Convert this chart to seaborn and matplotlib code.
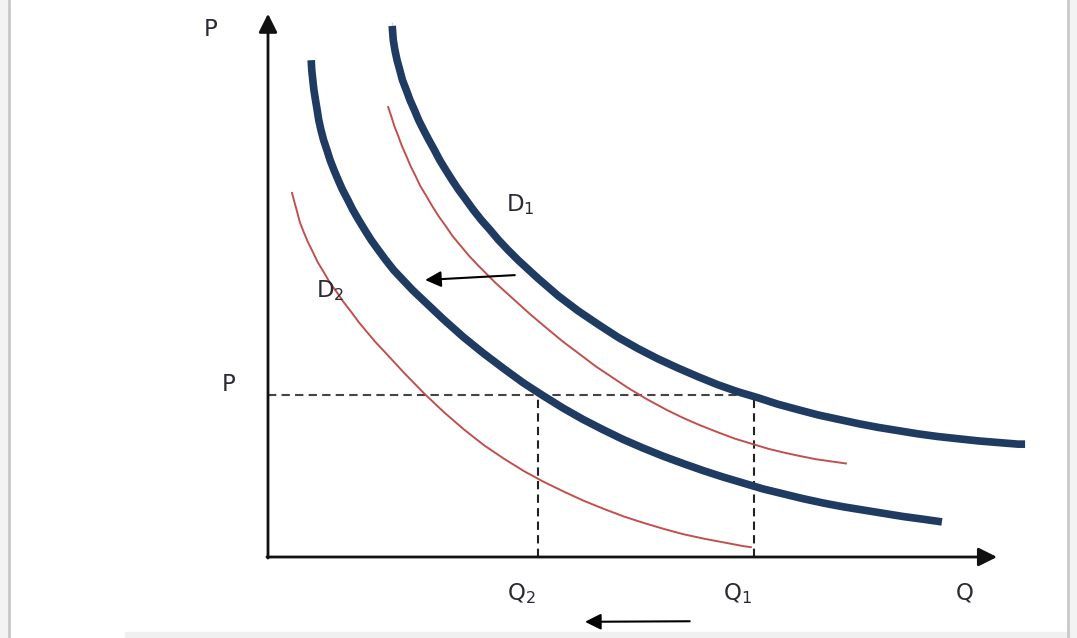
import seaborn as sns
import matplotlib.pyplot as plt
import pandas as pd
import numpy as np

# demand curves (Q, P in arbitrary units, axis origin = 0,0)
d1_q = [2.30, 2.30, 2.32, 2.35, 2.39, 2.44, 2.49, 2.56, 2.63, 2.71, 2.79, 2.88, 2.98, 3.08, 3.18, 3.29, 3.41, 3.53, 3.67,
        3.80, 3.95, 4.11, 4.27, 4.44, 4.63, 5.00, 5.37, 5.74, 6.11, 6.48, 6.85, 7.22, 7.59, 7.96, 8.33, 8.70, 9.07,
        9.44, 9.81, 10.19, 10.56, 10.93, 11.30, 11.67, 12.04, 12.41, 12.78, 13.15, 13.52, 13.89, 14.02]
d1_p = [9.91, 9.76, 9.57, 9.39, 9.20, 9.02, 8.83, 8.65, 8.46, 8.28, 8.09, 7.91, 7.72, 7.54, 7.35, 7.17, 6.98, 6.80, 6.61,
        6.43, 6.24, 6.06, 5.87, 5.69, 5.50, 5.16, 4.84, 4.56, 4.31, 4.07, 3.86, 3.67, 3.50, 3.34, 3.19, 3.06, 2.95,
        2.83, 2.73, 2.63, 2.55, 2.47, 2.40, 2.34, 2.28, 2.23, 2.19, 2.15, 2.12, 2.09, 2.09]

d2_q = [0.80, 0.81, 0.83, 0.85, 0.88, 0.91, 0.94, 0.98, 1.03, 1.09, 1.15, 1.22, 1.30, 1.38, 1.48, 1.57, 1.68, 1.79, 1.91,
        2.04, 2.18, 2.33, 2.50, 2.68, 2.87, 3.24, 3.61, 3.98, 4.35, 4.72, 5.09, 5.46, 5.83, 6.20, 6.57, 6.94, 7.31,
        7.69, 8.06, 8.43, 8.80, 9.17, 9.54, 9.91, 10.28, 10.65, 11.02, 11.39, 11.76, 12.13, 12.48]
d2_p = [9.20, 9.02, 8.83, 8.65, 8.46, 8.28, 8.09, 7.91, 7.72, 7.54, 7.35, 7.17, 6.98, 6.80, 6.61, 6.43, 6.24, 6.06, 5.87,
        5.69, 5.50, 5.31, 5.13, 4.94, 4.76, 4.41, 4.08, 3.78, 3.50, 3.23, 2.99, 2.76, 2.55, 2.36, 2.18, 2.02, 1.87,
        1.73, 1.60, 1.48, 1.37, 1.26, 1.17, 1.08, 1.00, 0.93, 0.87, 0.81, 0.75, 0.70, 0.65]

# thin red curves
r1_q = [2.22, 2.28, 2.34, 2.41, 2.48, 2.56, 2.64, 2.73, 2.82, 2.93, 3.04, 3.16, 3.29, 3.42, 3.57, 3.73, 3.90, 4.22,
        4.54, 4.85, 5.17, 5.46, 5.78, 6.07, 6.37, 6.67, 7.02, 7.39, 7.70, 8.00, 8.33, 8.65, 8.98, 9.28, 9.57,
        9.85, 10.15, 10.43, 10.72]
r1_p = [8.35, 8.17, 7.98, 7.80, 7.61, 7.43, 7.24, 7.06, 6.87, 6.69, 6.50, 6.31, 6.13, 5.94, 5.76, 5.57, 5.39, 5.07,
        4.78, 4.50, 4.23, 3.99, 3.75, 3.53, 3.33, 3.13, 2.92, 2.72, 2.57, 2.44, 2.31, 2.19, 2.09, 2.00, 1.93,
        1.87, 1.81, 1.77, 1.73]

r2_q = [0.44, 0.49, 0.54, 0.59, 0.66, 0.74, 0.83, 0.92, 1.03, 1.14, 1.27, 1.40, 1.54, 1.68, 1.83, 1.99, 2.16, 2.52,
        2.89, 3.26, 3.63, 4.00, 4.37, 4.74, 5.11, 5.48, 5.85, 6.22, 6.59, 6.96, 7.33, 7.70, 8.07, 8.44, 8.81, 8.96]
r2_p = [6.76, 6.57, 6.39, 6.20, 6.02, 5.83, 5.65, 5.46, 5.28, 5.09, 4.91, 4.72, 4.54, 4.35, 4.17, 3.98, 3.80, 3.41,
        3.03, 2.68, 2.36, 2.07, 1.82, 1.59, 1.39, 1.21, 1.04, 0.89, 0.75, 0.63, 0.52, 0.42, 0.34, 0.27, 0.20, 0.18]

p_eq = 3.0
q1 = 9.0
q2 = 5.0

navy = '#1f3b62'
red = '#c0504d'
txt = '#2a2a35'

sns.set_style('white')
plt.rcParams['font.family'] = ['DejaVu Sans']

fig = plt.figure(figsize=(10.77, 6.38), dpi=100)
ax = fig.add_axes([0, 0, 1, 1])
ax.set_xlim(-268 / 54, 809 / 54)
ax.set_ylim(-81 / 54, 557 / 54)
ax.axis('off')

# frame bits of the screenshot
fig.patches.append(plt.Rectangle((0, 0), 8 / 1077, 1, transform=fig.transFigure, color='#f3f3f3', zorder=0))
fig.patches.append(plt.Rectangle((1070 / 1077, 0), 7 / 1077, 1, transform=fig.transFigure, color='#f3f3f3', zorder=0))
fig.patches.append(plt.Rectangle((125 / 1077, 0), 945 / 1077, 6 / 638, transform=fig.transFigure, color='#f0f0f0', zorder=0))
fig.lines.append(plt.Line2D([9 / 1077, 9 / 1077], [0, 1], transform=fig.transFigure, color='#c8c8c8', lw=2))
fig.lines.append(plt.Line2D([1068 / 1077, 1068 / 1077], [0, 1], transform=fig.transFigure, color='#c8c8c8', lw=2))

# red curves
sns.lineplot(x=r1_q, y=r1_p, sort=False, color=red, lw=1.4, ax=ax)
sns.lineplot(x=r2_q, y=r2_p, sort=False, color=red, lw=1.4, ax=ax)

# thick demand curves
sns.lineplot(x=d1_q, y=d1_p, sort=False, color=navy, lw=5.5, ax=ax)
sns.lineplot(x=d2_q, y=d2_p, sort=False, color=navy, lw=5.5, ax=ax)
for line in ax.lines:
    line.set_solid_capstyle('butt')
    line.set_solid_joinstyle('round')

# dashed guides
ax.plot([0, q1], [p_eq, p_eq], ls=(0, (4, 2.5)), color='#444444', lw=1.5, zorder=1)
ax.plot([q2, q2], [0, p_eq], ls=(0, (4, 2.5)), color='#222222', lw=1.5, zorder=1)
ax.plot([q1, q1], [0, p_eq], ls=(0, (4, 2.5)), color='#222222', lw=1.5, zorder=1)

# axes with arrows
ax.annotate('', xy=(0, 10.06), xytext=(0, -0.02),
            arrowprops=dict(arrowstyle='-|>', mutation_scale=28, lw=2, color='#111111', shrinkA=0, shrinkB=0))
ax.annotate('', xy=(13.5, 0), xytext=(-0.02, 0),
            arrowprops=dict(arrowstyle='-|>', mutation_scale=28, lw=2, color='#111111', shrinkA=0, shrinkB=0))

# shift arrows
ax.annotate('', xy=(2.91, 5.13), xytext=(4.57, 5.22),
            arrowprops=dict(arrowstyle='-|>', mutation_scale=24, lw=1.5, color='black', shrinkA=0, shrinkB=0))
ax.annotate('', xy=(5.87, -1.20), xytext=(7.81, -1.19), annotation_clip=False,
            arrowprops=dict(arrowstyle='-|>', mutation_scale=24, lw=1.5, color='black', shrinkA=0, shrinkB=0))

fs = 16.5
ax.text(-1.07, 9.76, 'P', fontsize=fs, color=txt, ha='center', va='center')
ax.text(-0.72, 3.19, 'P', fontsize=fs, color=txt, ha='center', va='center')
ax.text(4.70, -0.67, r'Q$_2$', fontsize=fs, color=txt, ha='center', va='center')
ax.text(8.70, -0.67, r'Q$_1$', fontsize=fs, color=txt, ha='center', va='center')
ax.text(12.91, -0.67, 'Q', fontsize=fs, color=txt, ha='center', va='center')
ax.text(4.67, 6.52, r'D$_1$', fontsize=fs, color=txt, ha='center', va='center')
ax.text(1.15, 4.94, r'D$_2$', fontsize=fs, color=txt, ha='center', va='center')

fig.savefig('out.png', dpi=100)
